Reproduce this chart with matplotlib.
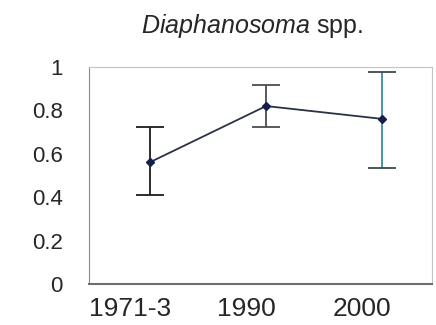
import numpy as np
import matplotlib
matplotlib.use('Agg')
import matplotlib.pyplot as plt
import matplotlib.transforms as mtransforms

plt.rcParams['font.family'] = ['Liberation Sans', 'DejaVu Sans']
plt.rcParams['mathtext.fontset'] = 'custom'
plt.rcParams['mathtext.rm'] = 'Liberation Sans'
plt.rcParams['mathtext.it'] = 'Liberation Sans:italic'

# 各時期平均值與誤差範圍
periods = ['1971-3', '1990', '2000']
means = [0.561, 0.819, 0.760]
upper = [0.724, 0.916, 0.977]
lower = [0.410, 0.724, 0.536]
yticks = [0, 0.2, 0.4, 0.6, 0.8, 1]
ytick_labels = ['0', '0.2', '0.4', '0.6', '0.8', '1']

bar_colors = ['#1c1c1c', '#4d4d4d', '#3f8c99']
cap_colors = ['#1c1c1c', '#4d4d4d', '#3a4a4c']

fig = plt.figure(figsize=(4.36, 3.25), dpi=100)
ax = fig.add_axes([0.204, 0.125, 0.787, 0.670])

x = np.arange(len(periods))
m = np.array(means)
lo = m - np.array(lower)
hi = np.array(upper) - m

# 每個點的誤差線顏色不同
for i in range(len(x)):
    _, caps, bars = ax.errorbar(x[i], m[i], yerr=[[lo[i]], [hi[i]]], fmt='none',
                                ecolor=bar_colors[i], elinewidth=1.3,
                                capsize=10, capthick=1.3, zorder=2)
    for c in caps:
        c.set_markeredgecolor(cap_colors[i])
        c.set_markerfacecolor(cap_colors[i])

ax.plot(x, m, color='#2b3245', linewidth=1.3, zorder=3)
ax.plot(x, m, linestyle='none', marker='D', markersize=4.5,
        color='#15204a', zorder=4)

ax.set_xlim(-0.526, 2.43)
ax.set_ylim(0, 1)
ax.set_xticks(x)
ax.set_xticklabels(periods, fontsize=19, color='#262626')
ax.set_yticks(yticks)
ax.set_yticklabels(ytick_labels, fontsize=16, color='#262626')
ax.tick_params(axis='x', length=0, pad=9)
ax.tick_params(axis='y', length=0, pad=19)

shift = mtransforms.ScaledTranslation(-0.2, 0, fig.dpi_scale_trans)
for lab in ax.get_xticklabels():
    lab.set_transform(lab.get_transform() + shift)

ax.spines['left'].set_color('#8a8a8a')
ax.spines['bottom'].set_color('#6e6e6e')
ax.spines['bottom'].set_linewidth(1.5)
ax.spines['top'].set_color('#c4c4c4')
ax.spines['right'].set_color('#c4c4c4')

fig.text(252 / 436, 1 - 33 / 325, r'$\mathit{Diaphanosoma}$ spp.',
         ha='center', va='baseline', fontsize=18, color='#262626')

fig.savefig('out.png', dpi=100)
